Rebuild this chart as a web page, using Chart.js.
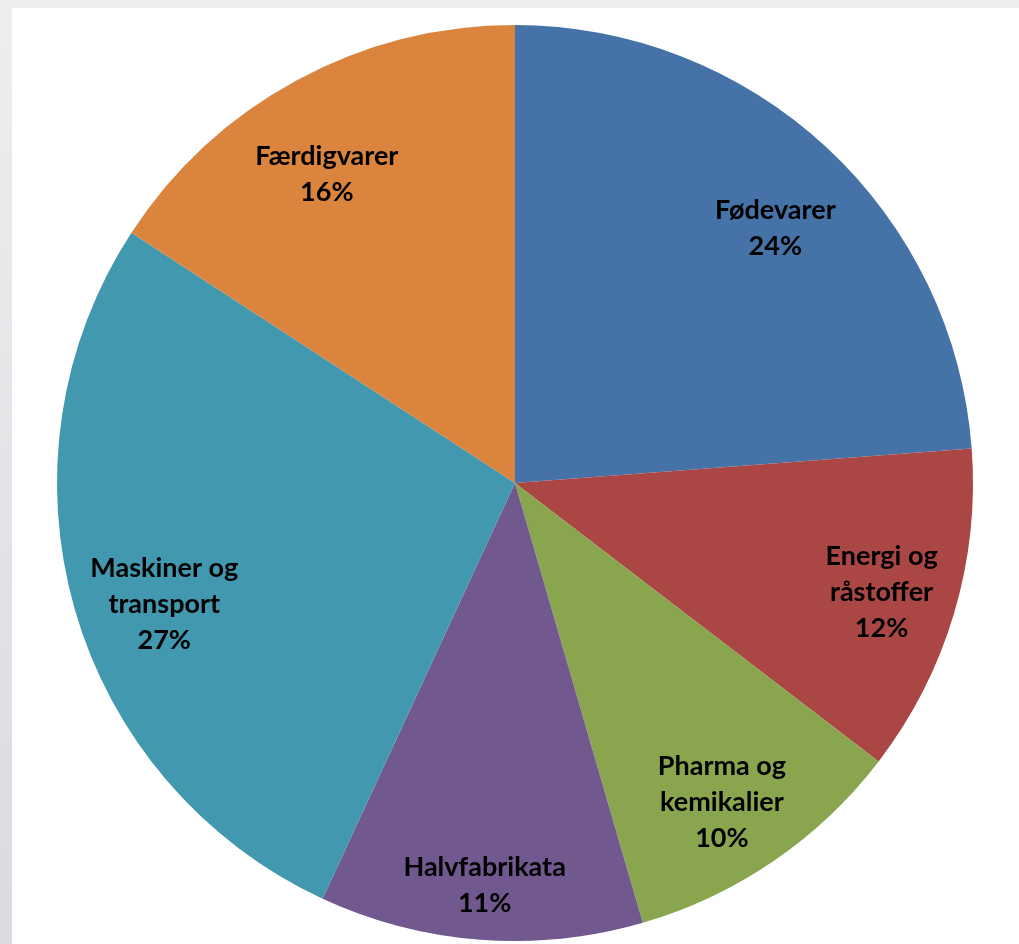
<!DOCTYPE html>
<html>
<head>
<meta charset="utf-8">
<script src="https://cdn.jsdelivr.net/npm/chart.js@4"></script>
<style>
  html, body { margin: 0; padding: 0; }
  body { width: 1019px; height: 944px; background: linear-gradient(#eceef0, #d9dbde); position: relative; overflow: hidden; }
  #panel { position: absolute; left: 12px; top: 8px; right: 0; bottom: 0; background: #ffffff; }
  #wrap { position: absolute; left: 0; top: 0; width: 1019px; height: 944px; }
</style>
</head>
<body>
<div id="panel"></div>
<div id="wrap"><canvas id="pieChart"></canvas></div>
<script>
// Data
const categories = ['Fødevarer', 'Energi og råstoffer', 'Pharma og kemikalier', 'Halvfabrikata', 'Maskiner og transport', 'Færdigvarer'];
const labelLines = [['Fødevarer'], ['Energi og', 'råstoffer'], ['Pharma og', 'kemikalier'], ['Halvfabrikata'], ['Maskiner og', 'transport'], ['Færdigvarer']];
const shares = [23.8, 11.6, 10.1, 11.4, 27.3, 15.8];
const colors = ['#4572A7', '#AA4643', '#89A54E', '#71588F', '#4198AF', '#DB843D'];

// Helper: draw the label text inside each slice
const sliceLabels = {
    id: 'sliceLabels',
    afterDatasetsDraw(chart, args, opts) {
        const ctx = chart.ctx;
        const meta = chart.getDatasetMeta(0);
        const total = shares.reduce((a, b) => a + b, 0);
        ctx.save();
        ctx.font = 'bold 27px Lato, "Open Sans", sans-serif';
        ctx.fillStyle = '#000';
        ctx.textAlign = 'center';
        ctx.textBaseline = 'middle';
        meta.data.forEach((arc, i) => {
            const p = arc.getProps(['x', 'y', 'startAngle', 'endAngle', 'outerRadius'], true);
            const mid = (p.startAngle + p.endAngle) / 2 + opts.shift[i] * Math.PI / 180;
            const r = p.outerRadius * opts.radius[i];
            const cx = p.x + Math.cos(mid) * r;
            const cy = p.y + Math.sin(mid) * r;
            const lines = labelLines[i].concat([Math.round(shares[i] / total * 100) + '%']);
            const lh = 36;
            const top = cy - (lines.length - 1) * lh / 2;
            lines.forEach((t, k) => ctx.fillText(t, cx, top + k * lh));
        });
        ctx.restore();
    }
};

const ctx = document.getElementById('pieChart').getContext('2d');
new Chart(ctx, {
    type: 'pie',
    data: {
        labels: categories,
        datasets: [{
            data: shares,
            backgroundColor: colors,
            borderWidth: 0
        }]
    },
    options: {
        responsive: true,
        maintainAspectRatio: false,
        animation: false,
        layout: { padding: { left: 57, right: 46, top: 25, bottom: 3 } },
        plugins: {
            legend: { display: false },
            tooltip: { enabled: false },
            sliceLabels: {
                radius: [0.795, 0.835, 0.83, 0.88, 0.81, 0.79],
                shift: [2.8, 0, 1.4, 0, -3, -2.9]
            }
        }
    },
    plugins: [sliceLabels]
});
</script>
</body>
</html>
